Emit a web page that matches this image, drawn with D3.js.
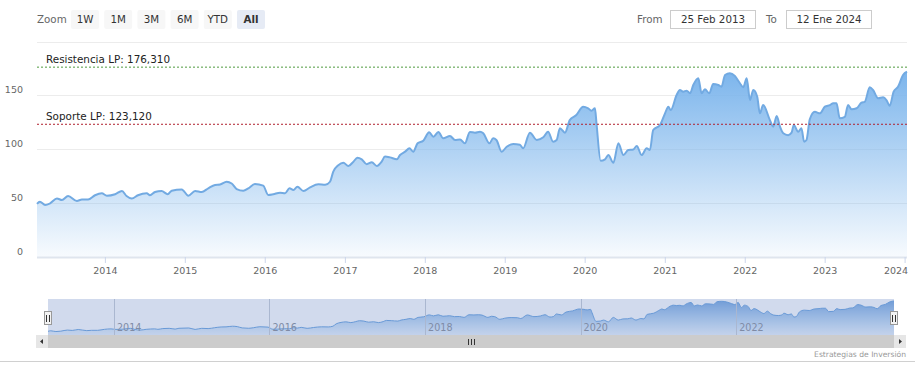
<!DOCTYPE html>
<html>
<head>
<meta charset="utf-8">
<script src="https://cdn.jsdelivr.net/npm/d3@7"></script>
<style>
  body { margin: 0; background: #fff; }
  svg { display: block; font-family: "DejaVu Sans", Verdana, sans-serif; }
</style>
</head>
<body>
<div id="chart"></div>
<script>
// price series
var dates = [
  "2013-02-25","2013-03-10","2013-04-03","2013-04-26","2013-05-27","2013-06-19","2013-07-17","2013-08-26","2013-09-18","2013-10-16","2013-11-17","2013-12-18",
  "2014-01-10","2014-02-17","2014-03-20","2014-04-10","2014-05-04","2014-06-01","2014-07-11","2014-07-26","2014-08-18","2014-09-17","2014-10-15","2014-11-02","2014-12-18",
  "2015-01-17","2015-02-17","2015-03-19","2015-04-18","2015-05-19","2015-06-11","2015-07-11","2015-08-03","2015-08-26","2015-09-25","2015-10-18","2015-11-17","2015-12-25",
  "2016-01-17","2016-02-09","2016-03-11","2016-04-03","2016-04-23","2016-05-11","2016-05-29","2016-06-26","2016-07-26","2016-09-02","2016-10-03","2016-10-25","2016-11-09","2016-12-02","2016-12-25",
  "2017-01-17","2017-02-09","2017-02-27","2017-03-19","2017-04-11","2017-05-04","2017-05-27","2017-06-18","2017-07-03","2017-07-26","2017-08-26","2017-09-10","2017-10-03","2017-10-23","2017-11-09","2017-11-29","2017-12-25",
  "2018-01-21","2018-02-09","2018-03-04","2018-03-26","2018-04-26","2018-05-19","2018-06-11","2018-07-03","2018-07-26","2018-08-18","2018-09-10","2018-09-25","2018-10-23","2018-11-09","2018-11-24","2018-12-18",
  "2019-01-10","2019-02-09","2019-03-11","2019-03-26","2019-04-26","2019-05-27","2019-06-26","2019-07-18","2019-08-10","2019-08-26","2019-09-10","2019-10-03","2019-10-25","2019-11-24","2019-12-25",
  "2020-01-17","2020-02-01","2020-02-17","2020-02-24","2020-03-14","2020-04-03","2020-04-18","2020-05-11","2020-06-03","2020-06-26","2020-07-18","2020-08-10","2020-08-26","2020-09-17","2020-10-10","2020-10-25","2020-11-09","2020-12-10",
  "2021-01-02","2021-01-17","2021-01-28","2021-02-24","2021-03-11","2021-03-26","2021-04-11","2021-04-26","2021-05-11","2021-06-03","2021-06-18","2021-07-03","2021-07-23","2021-08-10","2021-09-02","2021-09-17","2021-10-03","2021-10-25","2021-11-17","2021-12-10","2021-12-25",
  "2022-01-10","2022-01-25","2022-02-09","2022-02-27","2022-03-11","2022-03-26","2022-04-26","2022-05-11","2022-05-27","2022-06-11","2022-06-26","2022-07-18","2022-08-03","2022-08-13","2022-09-02","2022-09-17","2022-09-29","2022-10-10","2022-10-25","2022-11-17","2022-12-10",
  "2023-01-02","2023-01-25","2023-02-09","2023-02-24","2023-03-11","2023-04-03","2023-04-18","2023-05-04","2023-05-27","2023-06-18","2023-07-03","2023-07-26","2023-08-10","2023-09-02","2023-09-25","2023-10-10","2023-10-25","2023-11-12","2023-12-02","2023-12-25",
  "2024-01-12"
];
var prices = [
  49,51,48,49.5,54,52.6,56.3,51.7,53,53,57,58.8,
  56.6,58,61,56.3,54,57,58.8,57,60,61,58,61.3,62.5,
  56.6,61,60,63.5,66.6,67,69.6,68,62.8,61.3,63.5,67.5,66,
  57.3,58,59.4,59,63.5,62,65,61,64.4,67.2,66.7,69.6,79,85,87.3,
  84.3,88.3,92,90.5,86,87.7,84.3,88.3,93,92.3,90.5,94.5,97.6,100.7,97.6,105.4,107.8,
  115.6,111.5,116,110,112.2,108.5,109,105.4,116,115.3,116.2,114.7,105.4,110,108.5,97.6,
  102.2,104.7,104,100.7,115.3,108.5,111,116.2,106.9,108.5,119.4,115.3,127,131.7,139.5,
  138,135.8,138,124,89.2,90.5,94.5,87.3,105.4,94.5,99.2,99.7,102.9,94.5,100.7,99.2,117.8,122.4,
  133.3,139.5,136.4,150.4,155,153.5,154.4,152,159.7,166,152,155.7,152,160.6,159.7,158.1,169,170.6,168,161.3,157.5,
  166,145.7,155,148.8,133.3,141,127,120.9,130.8,120.9,114.7,113,115.3,122.4,116.2,119.4,106.9,108.5,127.7,134.8,133.3,
  139.5,141,142.6,142.6,128.7,130,141,137,138,143.2,144,157.5,155,147.3,148.2,145.7,140.4,153.5,158,169,
  172
];

var levelNames = ["Resistencia LP: 176,310", "Soporte LP: 123,120"];
var levelValues = [176.31, 123.12];
var levelColors = ["#4f9a3f", "#b0202e"];

var yTicks = [0, 50, 100, 150, 200];
var zoomButtons = ["1W", "1M", "3M", "6M", "YTD", "All"];
var fromDate = "25 Feb 2013", toDate = "12 Ene 2024";

var W = 915, H = 376;
var plotLeft = 37, plotRight = 907, plotTop = 41.7, plotBottom = 256.5;
var navLeft = 48, navRight = 894, navTop = 299, navBottom = 335;

var parse = d3.timeParse("%Y-%m-%d");
var data = dates.map((d, i) => ({ date: parse(d), value: prices[i] }));
var start = parse("2013-02-25"), end = parse("2024-01-12");

var x = d3.scaleTime().domain([start, end]).range([plotLeft, plotRight]);
var y = d3.scaleLinear().domain([0, 200]).range([plotBottom, plotTop]);
var nx = d3.scaleTime().domain([start, end]).range([navLeft, navRight]);
var ny = d3.scaleLinear().domain([34, 180]).range([navBottom, navTop]);

var svg = d3.select("#chart").append("svg")
  .attr("width", W)
  .attr("height", H);

var defs = svg.append("defs");
var grad = defs.append("linearGradient")
  .attr("id", "fillGrad")
  .attr("x1", 0).attr("y1", 0).attr("x2", 0).attr("y2", 1);
grad.append("stop").attr("offset", 0).attr("stop-color", "#7cb5ec").attr("stop-opacity", 1);
grad.append("stop").attr("offset", 1).attr("stop-color", "#7cb5ec").attr("stop-opacity", 0.06);

var navGrad = defs.append("linearGradient")
  .attr("id", "navGrad")
  .attr("x1", 0).attr("y1", 0).attr("x2", 0).attr("y2", 1);
navGrad.append("stop").attr("offset", 0).attr("stop-color", "#6a9fdc").attr("stop-opacity", 0.9);
navGrad.append("stop").attr("offset", 1).attr("stop-color", "#7cb5ec").attr("stop-opacity", 0.15);

// range selector
var rs = svg.append("g");
rs.append("text")
  .attr("x", 37).attr("y", 23)
  .attr("font-size", 10.3).attr("fill", "#666")
  .text("Zoom");

var btn = rs.selectAll("g.btn")
  .data(zoomButtons)
  .enter().append("g")
  .attr("class", "btn")
  .attr("transform", (d, i) => "translate(" + (71 + i * 33.2) + ",10)");
btn.append("rect")
  .attr("width", 28).attr("height", 19).attr("rx", 2)
  .attr("fill", (d) => d == "All" ? "#e6ebf5" : "#f7f7f7");
btn.append("text")
  .attr("x", 14).attr("y", 13.3)
  .attr("text-anchor", "middle")
  .attr("font-size", 10.3)
  .attr("font-weight", (d) => d == "All" ? "bold" : null)
  .attr("fill", "#333")
  .text((d) => d);

var inputs = [
  { label: "From", lx: 637, bx: 670, value: fromDate },
  { label: "To", lx: 766, bx: 786, value: toDate }
];
var inp = rs.selectAll("g.inp").data(inputs).enter().append("g").attr("class", "inp");
inp.append("text")
  .attr("x", (d) => d.lx).attr("y", 23)
  .attr("font-size", 10.3).attr("fill", "#666")
  .text((d) => d.label);
inp.append("rect")
  .attr("x", (d) => d.bx + 0.5).attr("y", 10.5)
  .attr("width", 85).attr("height", 18)
  .attr("fill", "#fff").attr("stroke", "#cccccc");
inp.append("text")
  .attr("x", (d) => d.bx + 43).attr("y", 23)
  .attr("text-anchor", "middle")
  .attr("font-size", 10.3).attr("fill", "#333")
  .text((d) => d.value);

// grid
svg.append("g")
  .selectAll("line")
  .data(yTicks)
  .enter().append("line")
  .attr("x1", plotLeft).attr("x2", plotRight)
  .attr("y1", (d) => Math.round(y(d)) + 0.5)
  .attr("y2", (d) => Math.round(y(d)) + 0.5)
  .attr("stroke", (d) => d == 0 ? "#dfe5ee" : "#ececec")
  .attr("stroke-width", (d) => d == 0 ? 2 : 1);

svg.append("g")
  .selectAll("text")
  .data(yTicks.filter((d) => d < 200))
  .enter().append("text")
  .attr("x", 23).attr("y", (d) => y(d) - 2)
  .attr("text-anchor", "end")
  .attr("font-size", 9.5).attr("fill", "#666")
  .text((d) => d);

// series
var area = d3.area()
  .x((d) => x(d.date))
  .y0(plotBottom)
  .y1((d) => y(d.value))
  .curve(d3.curveMonotoneX);
var line = d3.line()
  .x((d) => x(d.date))
  .y((d) => y(d.value))
  .curve(d3.curveMonotoneX);

svg.append("path").datum(data)
  .attr("d", area)
  .attr("fill", "url(#fillGrad)");
svg.append("path").datum(data)
  .attr("d", line)
  .attr("fill", "none")
  .attr("stroke", "#72aae2")
  .attr("stroke-width", 2);

// support / resistance
var lv = svg.append("g").selectAll("g")
  .data(levelValues)
  .enter().append("g");
lv.append("line")
  .attr("x1", plotLeft).attr("x2", plotRight)
  .attr("y1", (d) => y(d)).attr("y2", (d) => y(d))
  .attr("stroke", (d, i) => levelColors[i])
  .attr("stroke-width", 1)
  .attr("stroke-dasharray", "2,2");
lv.append("text")
  .attr("x", 46).attr("y", (d) => y(d) - 4)
  .attr("font-size", 10.4).attr("fill", "#222")
  .text((d, i) => levelNames[i]);

// x axis
var xAxis = d3.axisBottom(x)
  .ticks(d3.timeYear.every(1))
  .tickFormat(d3.timeFormat("%Y"))
  .tickSizeOuter(0)
  .tickSize(6);
var xg = svg.append("g")
  .attr("transform", "translate(0," + (plotBottom + 0.5) + ")")
  .call(xAxis);
xg.select(".domain").remove();
xg.selectAll(".tick line").attr("stroke", "#ccd6eb");
xg.selectAll(".tick text")
  .attr("y", 10)
  .attr("font-family", "DejaVu Sans, Verdana, sans-serif")
  .attr("font-size", 9.5).attr("fill", "#666");
// keep the last label inside the chart
xg.selectAll(".tick text")
  .filter((d) => x(d) + 12 > W)
  .attr("text-anchor", "end")
  .attr("x", 3);

// navigator
var nav = svg.append("g");
nav.append("rect")
  .attr("x", navLeft).attr("y", navTop)
  .attr("width", navRight - navLeft).attr("height", navBottom - navTop)
  .attr("fill", "#fff");

var navArea = d3.area()
  .x((d) => nx(d.date))
  .y0(navBottom)
  .y1((d) => ny(d.value))
  .curve(d3.curveMonotoneX);
var navLine = d3.line()
  .x((d) => nx(d.date))
  .y((d) => ny(d.value))
  .curve(d3.curveMonotoneX);

nav.append("path").datum(data)
  .attr("d", navArea)
  .attr("fill", "url(#navGrad)");
nav.append("path").datum(data)
  .attr("d", navLine)
  .attr("fill", "none")
  .attr("stroke", "#6aa3df")
  .attr("stroke-width", 1);

var navTicks = nx.ticks(d3.timeYear.every(2)).filter((d) => nx(d) + 30 < navRight);
nav.append("g").selectAll("line")
  .data(navTicks)
  .enter().append("line")
  .attr("x1", (d) => Math.round(nx(d)) + 0.5).attr("x2", (d) => Math.round(nx(d)) + 0.5)
  .attr("y1", navTop).attr("y2", navBottom)
  .attr("stroke", "#c8cdd6").attr("stroke-width", 1);
nav.append("g").selectAll("text")
  .data(navTicks)
  .enter().append("text")
  .attr("x", (d) => nx(d) + 3).attr("y", 331)
  .attr("font-size", 9.6).attr("fill", "#8a8f98")
  .text(d3.timeFormat("%Y"));

// selection mask (whole range selected)
nav.append("rect")
  .attr("x", navLeft).attr("y", navTop)
  .attr("width", navRight - navLeft).attr("height", navBottom - navTop)
  .attr("fill", "rgba(102,133,194,0.3)");

// handles
[navLeft, navRight].forEach((hx) => {
  var hg = nav.append("g").attr("transform", "translate(" + Math.round(hx) + ",311)");
  hg.append("rect")
    .attr("x", -3.5).attr("y", 0.5)
    .attr("width", 7).attr("height", 13)
    .attr("fill", "#f2f2f2").attr("stroke", "#999");
  hg.append("path")
    .attr("d", "M-1.5,4V11M1.5,4V11")
    .attr("stroke", "#333").attr("stroke-width", 1);
});

// scrollbar
var sb = svg.append("g");
sb.append("rect")
  .attr("x", 36).attr("y", 335)
  .attr("width", 870).attr("height", 13)
  .attr("fill", "#f2f2f2");
sb.append("rect")
  .attr("x", navLeft).attr("y", 335)
  .attr("width", navRight - navLeft).attr("height", 13)
  .attr("fill", "#cccccc");
[36, navRight].forEach((bx, i) => {
  sb.append("rect")
    .attr("x", bx).attr("y", 335)
    .attr("width", 12).attr("height", 13)
    .attr("fill", "#e6e6e6");
  var cx = bx + 6;
  sb.append("path")
    .attr("d", i == 0
      ? "M" + (cx + 1) + ",339L" + (cx - 2) + ",341.5L" + (cx + 1) + ",344Z"
      : "M" + (cx - 1) + ",339L" + (cx + 2) + ",341.5L" + (cx - 1) + ",344Z")
    .attr("fill", "#333");
});
var mid = (navLeft + navRight) / 2;
sb.append("path")
  .attr("d", "M" + (mid - 2.5) + ",339V345M" + (mid + 0.5) + ",339V345M" + (mid + 3.5) + ",339V345")
  .attr("stroke", "#333").attr("stroke-width", 1);

// credits and bottom border
svg.append("text")
  .attr("x", 906).attr("y", 357)
  .attr("text-anchor", "end")
  .attr("font-size", 7.6).attr("fill", "#999")
  .text("Estrategias de Inversión");
svg.append("line")
  .attr("x1", 0).attr("x2", W)
  .attr("y1", 361.5).attr("y2", 361.5)
  .attr("stroke", "#d0d0d0");
</script>
</body>
</html>
